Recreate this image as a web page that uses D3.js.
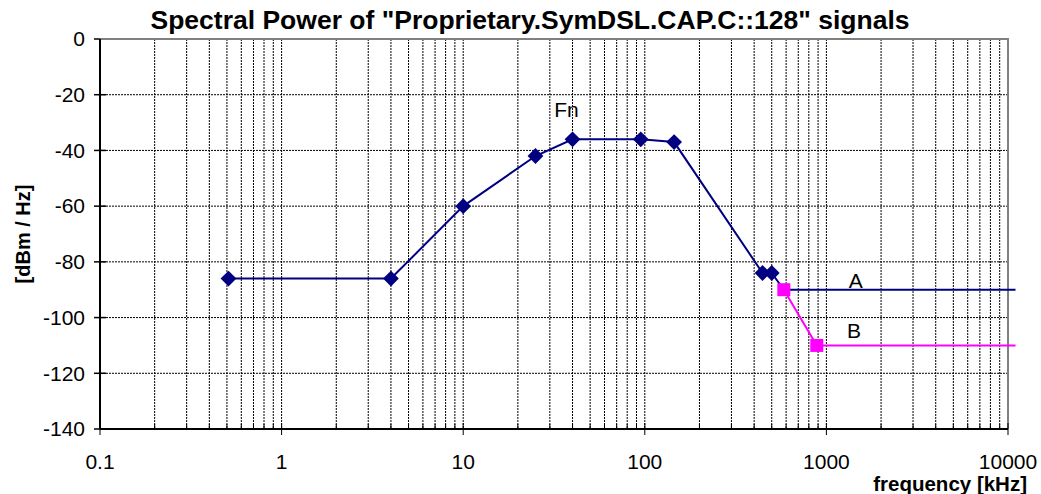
<!DOCTYPE html>
<html>
<head>
<meta charset="utf-8">
<script src="https://cdn.jsdelivr.net/npm/d3@7"></script>
<style>
  body { margin: 0; background: #fff; }
  svg { display: block; font-family: "Liberation Sans", Arial, sans-serif; }
</style>
</head>
<body>
<div id="chart"></div>
<script>
// Fn curve (diamonds)
var fnFreq  = [0.51, 4, 10, 25, 40, 95, 145, 445, 500];
var fnPower = [-86, -86, -60, -42, -36, -36, -37, -84, -84];
// A continuation (no markers)
var aFreq  = [500, 583, 11000];
var aPower = [-84, -90, -90];
// B curve (squares on first two points)
var bFreq  = [583, 885, 11000];
var bPower = [-90, -110, -110];

var xTicks = [0.1, 1, 10, 100, 1000, 10000];
var yTicks = [0, -20, -40, -60, -80, -100, -120, -140];

var labels = [
  {text: "Fn", f: 37, p: -28},
  {text: "A", f: 1450, p: -89.3},
  {text: "B", f: 1420, p: -107.3}
];

var W = 1041, H = 494;
var margin = ({top: 39, right: 33, bottom: 65, left: 100});
var Gwidth = W - margin.left - margin.right;
var Gheight = H - margin.top - margin.bottom;
var navy = "#000080", pink = "#ff00ff";

var svg = d3.select("#chart").append("svg")
    .attr("width", W)
    .attr("height", H);

var scaleX = d3.scaleLog()
  .domain([0.1, 10000])
  .range([0, Gwidth]);

var scaleY = d3.scaleLinear()
  .domain([-140, 0])
  .range([Gheight, 0]);

var topG = svg.append("g")
    .attr("transform", "translate(" + margin.left + "," + margin.top + ")");

// minor + major vertical positions
var allX = [];
for (var e = -1; e < 4; e++) {
  for (var m = 1; m < 10; m++) allX.push(m * Math.pow(10, e));
}
allX.push(10000);

// gridlines
var grid = topG.append("g");
grid.selectAll(".vg")
  .data(allX.filter(d => d > 0.1 && d < 10000))
  .enter().append("line")
  .attr("x1", d => scaleX(d)).attr("x2", d => scaleX(d))
  .attr("y1", 0).attr("y2", Gheight)
  .attr("stroke", "#000").attr("stroke-width", 1)
  .attr("stroke-dasharray", "2,1");

grid.selectAll(".hg")
  .data(yTicks.filter(d => d < 0 && d > -140))
  .enter().append("line")
  .attr("x1", 0).attr("x2", Gwidth)
  .attr("y1", d => scaleY(d)).attr("y2", d => scaleY(d))
  .attr("stroke", "#000").attr("stroke-width", 1)
  .attr("stroke-dasharray", "2,1");

// plot area border (top + right, gray)
topG.append("path")
  .attr("d", "M0,0H" + Gwidth + "V" + Gheight)
  .attr("fill", "none")
  .attr("stroke", "#808080")
  .attr("stroke-width", 2);

// Axes
var xAxis = topG.append("g")
  .attr("transform", "translate(0," + Gheight + ")");
xAxis.append("line")
  .attr("x1", 0).attr("x2", Gwidth)
  .attr("stroke", "#000").attr("stroke-width", 2);
xAxis.selectAll(".mt")
  .data(allX)
  .enter().append("line")
  .attr("x1", d => scaleX(d)).attr("x2", d => scaleX(d))
  .attr("y1", d => xTicks.indexOf(d) >= 0 ? 6 : 0)
  .attr("y2", d => xTicks.indexOf(d) >= 0 ? -6 : -5)
  .attr("stroke", "#000").attr("stroke-width", 1);
xAxis.selectAll(".xl")
  .data(xTicks)
  .enter().append("text")
  .attr("x", d => scaleX(d))
  .attr("y", 40)
  .attr("text-anchor", "middle")
  .attr("font-size", 21)
  .text(d => d3.format("")(d));

var yAxis = topG.append("g");
yAxis.append("line")
  .attr("y1", 0).attr("y2", Gheight)
  .attr("stroke", "#000").attr("stroke-width", 2);
yAxis.selectAll(".yt")
  .data(yTicks)
  .enter().append("line")
  .attr("x1", -6).attr("x2", d => d === 0 ? 0 : 6)
  .attr("y1", d => scaleY(d)).attr("y2", d => scaleY(d))
  .attr("stroke", "#000").attr("stroke-width", 1.5);
yAxis.selectAll(".yl")
  .data(yTicks)
  .enter().append("text")
  .attr("x", -15)
  .attr("y", d => scaleY(d))
  .attr("dy", "0.35em")
  .attr("text-anchor", "end")
  .attr("font-size", 21)
  .text(d => d);

// Lines
var line = d3.line()
  .x(d => scaleX(d[0]))
  .y(d => scaleY(d[1]));

var fnData = fnFreq.map((f, i) => [f, fnPower[i]]);
var aData = aFreq.map((f, i) => [f, aPower[i]]);
var bData = bFreq.map((f, i) => [f, bPower[i]]);

var chartArea = topG.append("g");

chartArea.append("path")
  .datum(aData)
  .attr("d", line)
  .attr("fill", "none")
  .attr("stroke", navy)
  .attr("stroke-width", 2);

chartArea.append("path")
  .datum(fnData)
  .attr("d", line)
  .attr("fill", "none")
  .attr("stroke", navy)
  .attr("stroke-width", 2);

chartArea.append("path")
  .datum(bData)
  .attr("d", line)
  .attr("fill", "none")
  .attr("stroke", pink)
  .attr("stroke-width", 2);

var diamond = d3.symbol().type(d3.symbolSquare).size(125);
chartArea.selectAll(".dia")
  .data(fnData)
  .enter().append("path")
  .attr("d", diamond)
  .attr("transform", d => "translate(" + scaleX(d[0]) + "," + scaleY(d[1]) + ") rotate(45)")
  .attr("fill", navy);

chartArea.selectAll(".sq")
  .data(bData.slice(0, 2))
  .enter().append("rect")
  .attr("x", d => scaleX(d[0]) - 6.5)
  .attr("y", d => scaleY(d[1]) - 6.5)
  .attr("width", 13)
  .attr("height", 13)
  .attr("fill", pink);

// Series labels
chartArea.selectAll(".lab")
  .data(labels)
  .enter().append("text")
  .attr("x", d => scaleX(d.f))
  .attr("y", d => scaleY(d.p))
  .attr("text-anchor", "middle")
  .attr("font-size", 21)
  .text(d => d.text);

// Titles
svg.append("text")
  .attr("x", 530)
  .attr("y", 29)
  .attr("text-anchor", "middle")
  .attr("font-size", 26.5)
  .attr("font-weight", "bold")
  .text('Spectral Power of "Proprietary.SymDSL.CAP.C::128" signals');

svg.append("text")
  .attr("transform", "translate(30," + (margin.top + Gheight / 2) + ") rotate(-90)")
  .attr("text-anchor", "middle")
  .attr("font-size", 20)
  .attr("font-weight", "bold")
  .text("[dBm / Hz]");

svg.append("text")
  .attr("x", 1027)
  .attr("y", 491)
  .attr("text-anchor", "end")
  .attr("font-size", 20.5)
  .attr("font-weight", "bold")
  .text("frequency [kHz]");
</script>
</body>
</html>
